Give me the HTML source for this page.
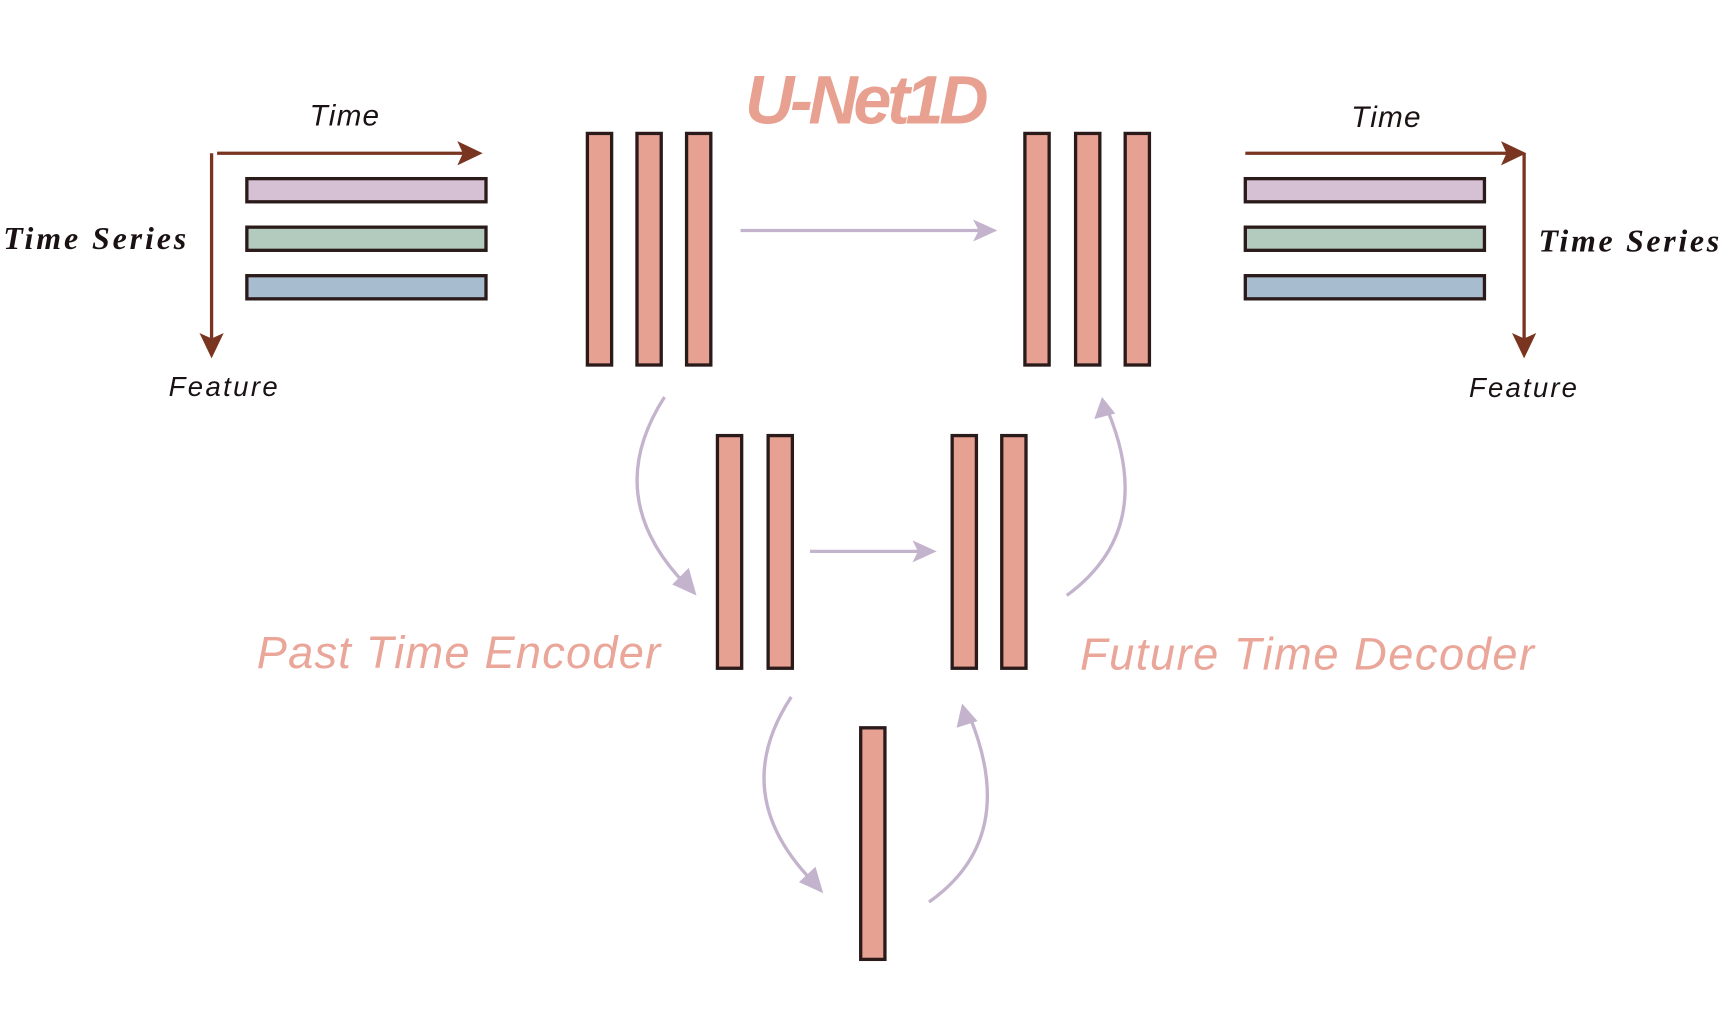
<!DOCTYPE html>
<html><head><meta charset="utf-8"><style>
html,body{margin:0;padding:0;background:#fff;}
svg{display:block;}
</style></head><body>
<svg width="1728" height="1009" viewBox="0 0 1568 915" preserveAspectRatio="none" xmlns="http://www.w3.org/2000/svg">
<g fill="none" stroke="#7a3520" stroke-width="3">
<line x1="197" y1="139" x2="425" y2="139"/><path d="M415,128 L438,139 L415,150 L420,139Z" fill="#7a3520" stroke="none"/>
<line x1="192" y1="139" x2="192" y2="312"/><path d="M181,302 L192,325 L203,302 L192,307Z" fill="#7a3520" stroke="none"/>
<line x1="1130" y1="139" x2="1372" y2="139"/><path d="M1362,128 L1385,139 L1362,150 L1367,139Z" fill="#7a3520" stroke="none"/>
<line x1="1383" y1="139" x2="1383" y2="312"/><path d="M1372,302 L1383,325 L1394,302 L1383,307Z" fill="#7a3520" stroke="none"/>
</g>
<g stroke="#2a1a1a" stroke-width="3">
<rect x="224" y="162" width="217" height="21" fill="#d5c1d3"/>
<rect x="224" y="206" width="217" height="21" fill="#b3cbbf"/>
<rect x="224" y="250" width="217" height="21" fill="#a8bccf"/>
<rect x="1130" y="162" width="217" height="21" fill="#d5c1d3"/>
<rect x="1130" y="206" width="217" height="21" fill="#b3cbbf"/>
<rect x="1130" y="250" width="217" height="21" fill="#a8bccf"/>
</g>
<g stroke="#2a1a1a" stroke-width="3" fill="#e6a193">
<rect x="533" y="121" width="22" height="210"/><rect x="578" y="121" width="22" height="210"/><rect x="623" y="121" width="22" height="210"/>
<rect x="930" y="121" width="22" height="210"/><rect x="976" y="121" width="22" height="210"/><rect x="1021" y="121" width="22" height="210"/>
<rect x="651" y="395" width="22" height="211"/><rect x="697" y="395" width="22" height="211"/>
<rect x="864" y="395" width="22" height="211"/><rect x="909" y="395" width="22" height="211"/>
<rect x="781" y="660" width="22" height="210"/>
</g>
<g fill="none" stroke="#c4b3cc" stroke-width="3">
<line x1="672" y1="209" x2="895" y2="209"/>
<line x1="735" y1="500" x2="840" y2="500"/>
<path d="M603,360 Q545,450 622,530"/>
<path d="M968,540 Q1050,480 1005,372"/>
<path d="M718,632 Q660,720 738,800"/>
<path d="M843,818 Q925,760 880,650"/>
</g>
<g fill="#c4b3cc">
<path d="M883,199 L905,209 L883,219 L888,209Z"/>
<path d="M828,490 L850,500 L828,510 L833,500Z"/>
<path d="M632,540 L610,530 L625,515Z"/>
<path d="M1000,360 L993,380 L1012,375Z"/>
<path d="M747,810 L725,800 L740,786Z"/>
<path d="M873,638 L868,660 L887,654Z"/>
</g>
<g font-family="Liberation Sans, sans-serif" font-style="italic" fill="#1a1212">
<text x="281" y="114" font-size="27" textLength="63">Time</text>
<text x="1226" y="115" font-size="27" textLength="63">Time</text>
<text x="153" y="359" font-size="25" textLength="99">Feature</text>
<text x="1333" y="360" font-size="25" textLength="98">Feature</text>
</g>
<g font-family="Liberation Serif, serif" font-style="italic" font-weight="bold" fill="#1a1212" font-size="29">
<text x="3" y="226" textLength="166">Time Series</text>
<text x="1396" y="228" textLength="164">Time Series</text>
</g>
<text x="676" y="112" font-family="Liberation Sans, sans-serif" font-style="italic" font-weight="bold" font-size="62" fill="#e8a090" textLength="218" letter-spacing="-3">U-Net1D</text>
<g font-family="Liberation Sans, sans-serif" font-style="italic" fill="#eba69a" font-size="41">
<text x="233" y="606" textLength="366">Past Time Encoder</text>
<text x="980" y="607" textLength="412">Future Time Decoder</text>
</g>
</svg>
</body></html>
